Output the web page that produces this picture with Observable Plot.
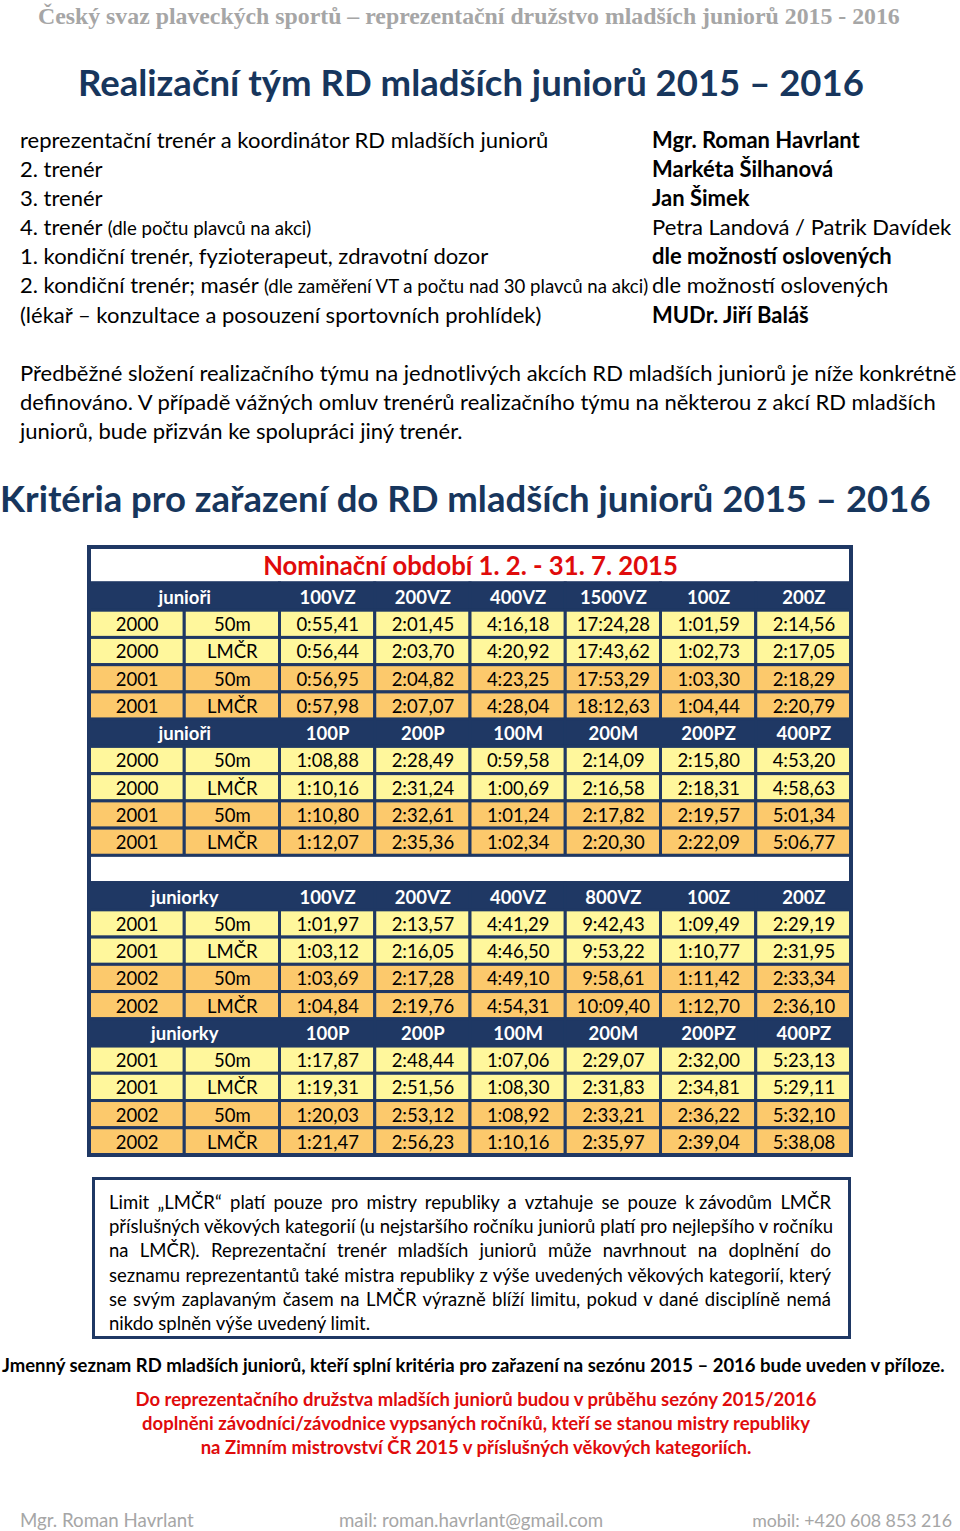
<!DOCTYPE html>
<html><head><meta charset="utf-8">
<script src="https://cdn.jsdelivr.net/npm/d3@7"></script>
<script src="https://cdn.jsdelivr.net/npm/@observablehq/plot@0.6"></script>
<style>
html,body{margin:0;padding:0;background:#fff;}
body{width:960px;height:1531px;position:relative;overflow:hidden;font-family:Lato,"Open Sans",sans-serif;color:#000;}
.abs{position:absolute;white-space:nowrap;}
.hdr{font-family:"Liberation Serif",serif;font-weight:bold;color:#a6a6a6;font-size:23.8px;line-height:30px;}
.title{color:#17365d;font-weight:bold;font-size:36.5px;line-height:44px;}
.staff div{height:29.2px;line-height:29.2px;font-size:22px;}
.small{font-size:18.6px;}
.b{font-weight:bold;}
.para{font-size:22px;line-height:29px;}
.note{border:3px solid #1f3864;box-sizing:border-box;}
.note div{font-size:18.5px;line-height:24.2px;text-align:justify;text-align-last:justify;}
.note div.last{text-align-last:left;}
.red{color:#e00b0b;font-weight:bold;font-size:18.5px;line-height:24px;text-align:center;}
.foot{color:#a6a6a6;font-size:18.7px;line-height:24px;}
#table{position:absolute;left:0;top:540px;}
</style></head>
<body>
<div class="abs hdr" id="hdr" style="left:38px;top:1px;">Český svaz plaveckých sportů – reprezentační družstvo mladších juniorů 2015 - 2016</div>
<div class="abs title" id="t1" style="left:78px;top:60px;">Realizační tým RD mladších juniorů 2015 – 2016</div>

<div class="abs staff" style="left:20px;top:124.5px;width:630px;">
<div>reprezentační trenér a koordinátor RD mladších juniorů</div>
<div>2. trenér</div>
<div>3. trenér</div>
<div>4. trenér <span class="small">(dle počtu plavců na akci)</span></div>
<div>1. kondiční trenér, fyzioterapeut, zdravotní dozor</div>
<div>2. kondiční trenér; masér <span class="small">(dle zaměření VT a počtu nad 30 plavců na akci)</span></div>
<div>(lékař – konzultace a posouzení sportovních prohlídek)</div>
</div>
<div class="abs staff" style="left:652px;top:124.5px;">
<div class="b">Mgr. Roman Havrlant</div>
<div class="b">Markéta Šilhanová</div>
<div class="b">Jan Šimek</div>
<div>Petra Landová / Patrik Davídek</div>
<div class="b">dle možností oslovených</div>
<div>dle možností oslovených</div>
<div class="b">MUDr. Jiří Baláš</div>
</div>

<div class="abs para" style="left:20px;top:357.5px;">Předběžné složení realizačního týmu na jednotlivých akcích RD mladších juniorů je níže konkrétně<br>definováno. V případě vážných omluv trenérů realizačního týmu na některou z akcí RD mladších<br>juniorů, bude přizván ke spolupráci jiný trenér.</div>

<div class="abs title" id="t2" style="left:0px;top:476px;">Kritéria pro zařazení do RD mladších juniorů 2015 – 2016</div>

<div id="table"></div>

<div class="abs note" style="left:92px;top:1177px;width:759px;height:162px;padding:10px 17px 0 14px;">
<div>Limit „LMČR“ platí pouze pro mistry republiky a vztahuje se pouze k&#8239;závodům LMČR</div>
<div>příslušných věkových kategorií (u nejstaršího ročníku juniorů platí pro nejlepšího v ročníku</div>
<div>na LMČR). Reprezentační trenér mladších juniorů může navrhnout na doplnění do</div>
<div>seznamu reprezentantů také mistra republiky z výše uvedených věkových kategorií, který</div>
<div>se svým zaplavaným časem na LMČR výrazně blíží limitu, pokud v dané disciplíně nemá</div>
<div class="last">nikdo splněn výše uvedený limit.</div>
</div>

<div class="abs b" style="left:2px;top:1353px;font-size:18.5px;line-height:24px;">Jmenný seznam RD mladších juniorů, kteří splní kritéria pro zařazení na sezónu 2015 – 2016 bude uveden v příloze.</div>

<div class="abs red" style="left:0;width:952px;top:1387px;">Do reprezentačního družstva mladších juniorů budou v průběhu sezóny 2015/2016<br>doplněni závodníci/závodnice vypsaných ročníků, kteří se stanou mistry republiky<br>na Zimním mistrovství ČR 2015 v příslušných věkových kategoriích.</div>

<div class="abs foot" style="left:20px;top:1508px;">Mgr. Roman Havrlant</div>
<div class="abs foot" style="left:339px;top:1508px;">mail: roman.havrlant@gmail.com</div>
<div class="abs foot" style="right:8px;top:1508px;font-size:17.8px;">mobil: +420 608 853 216</div>

<script>
// ---- data ----
const tableTitle = "Nominační období 1. 2. - 31. 7. 2015";
const boysLabel = "junioři";
const girlsLabel = "juniorky";
const boysEventsA = ["100VZ","200VZ","400VZ","1500VZ","100Z","200Z"];
const boysEventsB = ["100P","200P","100M","200M","200PZ","400PZ"];
const girlsEventsA = ["100VZ","200VZ","400VZ","800VZ","100Z","200Z"];
const girlsEventsB = ["100P","200P","100M","200M","200PZ","400PZ"];
const boysYears = ["2000","2000","2001","2001"];
const girlsYears = ["2001","2001","2002","2002"];
const courses = ["50m","LMČR","50m","LMČR"];
const boysTimesA = [
  ["0:55,41","2:01,45","4:16,18","17:24,28","1:01,59","2:14,56"],
  ["0:56,44","2:03,70","4:20,92","17:43,62","1:02,73","2:17,05"],
  ["0:56,95","2:04,82","4:23,25","17:53,29","1:03,30","2:18,29"],
  ["0:57,98","2:07,07","4:28,04","18:12,63","1:04,44","2:20,79"]
];
const boysTimesB = [
  ["1:08,88","2:28,49","0:59,58","2:14,09","2:15,80","4:53,20"],
  ["1:10,16","2:31,24","1:00,69","2:16,58","2:18,31","4:58,63"],
  ["1:10,80","2:32,61","1:01,24","2:17,82","2:19,57","5:01,34"],
  ["1:12,07","2:35,36","1:02,34","2:20,30","2:22,09","5:06,77"]
];
const girlsTimesA = [
  ["1:01,97","2:13,57","4:41,29","9:42,43","1:09,49","2:29,19"],
  ["1:03,12","2:16,05","4:46,50","9:53,22","1:10,77","2:31,95"],
  ["1:03,69","2:17,28","4:49,10","9:58,61","1:11,42","2:33,34"],
  ["1:04,84","2:19,76","4:54,31","10:09,40","1:12,70","2:36,10"]
];
const girlsTimesB = [
  ["1:17,87","2:48,44","1:07,06","2:29,07","2:32,00","5:23,13"],
  ["1:19,31","2:51,56","1:08,30","2:31,83","2:34,81","5:29,11"],
  ["1:20,03","2:53,12","1:08,92","2:33,21","2:36,22","5:32,10"],
  ["1:21,47","2:56,23","1:10,16","2:35,97","2:39,04","5:38,08"]
];

// ---- build table cells ----
const NAVY = "#1f3864", YELLOW = "#fff79c", ORANGE = "#fcc96c";
const blocks = [
  {label: boysLabel, events: boysEventsA, years: boysYears, times: boysTimesA},
  {label: boysLabel, events: boysEventsB, years: boysYears, times: boysTimesB},
  {label: girlsLabel, events: girlsEventsA, years: girlsYears, times: girlsTimesA},
  {label: girlsLabel, events: girlsEventsB, years: girlsYears, times: girlsTimesB}
];
const cells = [];
let row = 0;
blocks.forEach((b, bi) => {
  if (bi === 2) { cells.push({c1:0,c2:8,r:row,text:"",fill:"#ffffff",color:"#000",bold:false}); row++; }
  cells.push({c1:0,c2:2,r:row,text:b.label,fill:NAVY,color:"#fff",bold:true});
  b.events.forEach((e,i) => cells.push({c1:i+2,c2:i+3,r:row,text:e,fill:NAVY,color:"#fff",bold:true}));
  row++;
  b.times.forEach((t, ri) => {
    const f = ri < 2 ? YELLOW : ORANGE;
    cells.push({c1:0,c2:1,r:row,text:b.years[ri],fill:f,color:"#000",bold:false});
    cells.push({c1:1,c2:2,r:row,text:courses[ri],fill:f,color:"#000",bold:false});
    t.forEach((v,i) => cells.push({c1:i+2,c2:i+3,r:row,text:v,fill:f,color:"#000",bold:false}));
    row++;
  });
});
const nRows = row; // 21
const titleH = 1.32;

const plot = Plot.plot({
  width: 960, height: 625,
  margin: 0,
  style: {fontFamily: "Lato, 'Open Sans', sans-serif", background: "transparent"},
  x: {domain: [0, 8], range: [89, 851], axis: null},
  y: {domain: [-titleH, nRows], range: [7, 615], axis: null},
  color: {type: "identity"},
  marks: [
    Plot.rect([tableTitle], {x1: 0, x2: 8, y1: -titleH, y2: 0, fill: "#fff", stroke: NAVY, strokeWidth: 3}),
    Plot.text([tableTitle], {x: 4, y: -titleH/2, text: d => d, fill: "#e00b0b", fontWeight: "bold", fontSize: 25.7, dy: 1}),
    Plot.rect(cells, {x1: "c1", x2: "c2", y1: "r", y2: d => d.r + 1, fill: "fill", stroke: NAVY, strokeWidth: 3}),
    Plot.text(cells.filter(d => !d.bold), {x: d => (d.c1 + d.c2)/2, y: d => d.r + 0.5, text: "text", fill: "color", fontSize: 18.5, dy: 1}),
    Plot.text(cells.filter(d => d.bold), {x: d => (d.c1 + d.c2)/2, y: d => d.r + 0.5, text: "text", fill: "color", fontSize: 18.5, fontWeight: "bold", dy: 1}),
    Plot.rect([0], {x1: 0, x2: 8, y1: -titleH, y2: nRows, fill: "none", stroke: NAVY, strokeWidth: 4})
  ]
});
document.getElementById("table").appendChild(plot);
</script>
</body></html>
